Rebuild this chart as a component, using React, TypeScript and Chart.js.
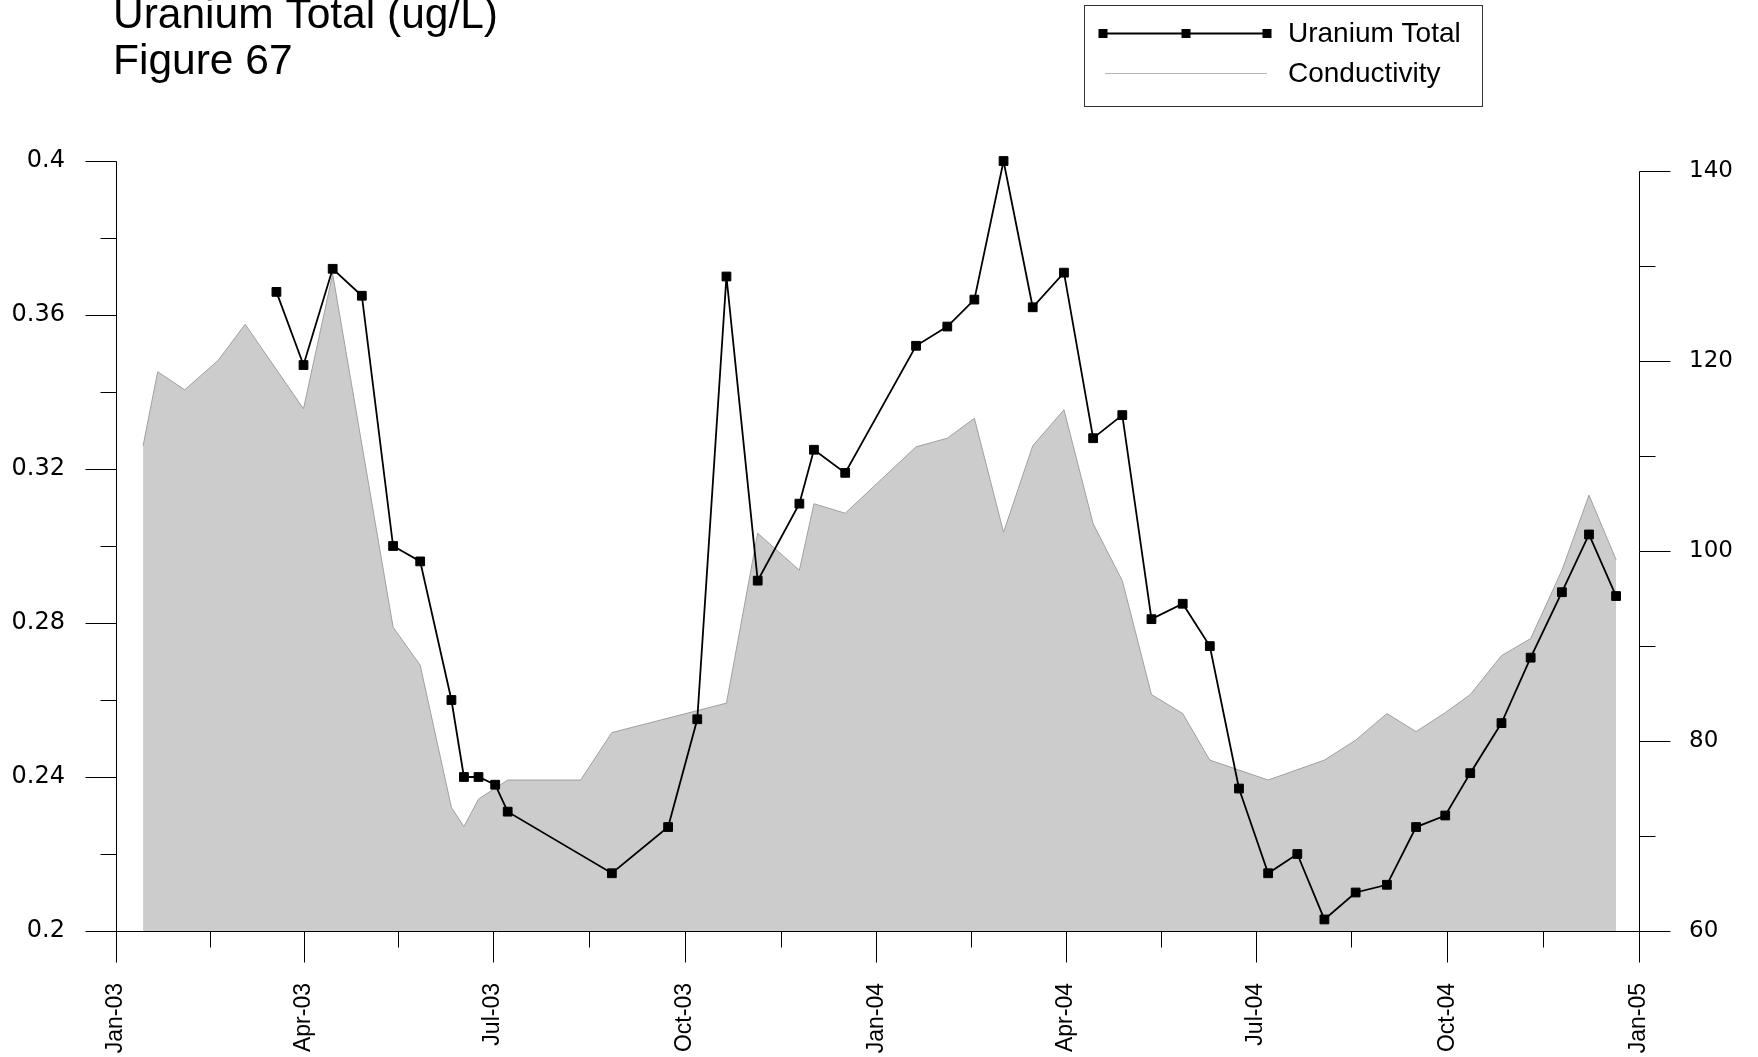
import React, { useEffect, useRef } from "react";
import { Chart, registerables } from "chart.js";

Chart.register(...registerables);

// ---------------- data ----------------
const TITLE_LINES = ["Uranium Total (ug/L)", "Figure 67"];
const URANIUM_LABEL = "Uranium Total";
const CONDUCTIVITY_LABEL = "Conductivity";

const URANIUM_DATES = [
  "2003-03-19", "2003-04-01", "2003-04-15", "2003-04-29", "2003-05-14", "2003-05-27",
  "2003-06-11", "2003-06-17", "2003-06-24", "2003-07-02", "2003-07-08", "2003-08-27",
  "2003-09-23", "2003-10-07", "2003-10-21", "2003-11-05", "2003-11-25", "2003-12-02",
  "2003-12-17", "2004-01-20", "2004-02-04", "2004-02-17", "2004-03-02", "2004-03-16",
  "2004-03-31", "2004-04-14", "2004-04-28", "2004-05-12", "2004-05-27", "2004-06-09",
  "2004-06-23", "2004-07-07", "2004-07-21", "2004-08-03", "2004-08-18", "2004-09-02",
  "2004-09-16", "2004-09-30", "2004-10-12", "2004-10-27", "2004-11-10", "2004-11-25",
  "2004-12-08", "2004-12-21",
];
const URANIUM_VALUES = [
  0.366, 0.347, 0.372, 0.365, 0.300, 0.296,
  0.260, 0.240, 0.240, 0.238, 0.231, 0.215,
  0.227, 0.255, 0.370, 0.291, 0.311, 0.325,
  0.319, 0.352, 0.357, 0.364, 0.400, 0.362,
  0.371, 0.328, 0.334, 0.281, 0.285, 0.274,
  0.237, 0.215, 0.220, 0.203, 0.210, 0.212,
  0.227, 0.230, 0.241, 0.254, 0.271, 0.288,
  0.303, 0.287,
];

const COND_DATES = [
  "2003-01-14", "2003-01-21", "2003-02-03", "2003-02-19", "2003-03-04", "2003-04-01",
  "2003-04-15", "2003-05-14", "2003-05-27", "2003-06-11", "2003-06-17", "2003-06-24",
  "2003-07-08", "2003-08-12", "2003-08-27", "2003-10-21", "2003-11-05", "2003-11-25",
  "2003-12-02", "2003-12-17", "2004-01-20", "2004-02-04", "2004-02-17", "2004-03-02",
  "2004-03-16", "2004-03-31", "2004-04-14", "2004-04-28", "2004-05-12", "2004-05-27",
  "2004-06-09", "2004-07-07", "2004-08-03", "2004-08-18", "2004-09-02", "2004-09-16",
  "2004-09-30", "2004-10-12", "2004-10-27", "2004-11-10", "2004-11-25", "2004-12-08",
  "2004-12-21",
];
const COND_VALUES = [
  111.1, 118.9, 117.0, 120.1, 123.9, 115.0,
  129.2, 92.0, 88.0, 73.0, 71.0, 73.9,
  75.9, 75.9, 80.9, 84.0, 101.9, 98.0,
  105.0, 104.0, 111.0, 111.9, 114.0, 102.0,
  111.1, 114.9, 102.9, 96.9, 84.9, 82.9,
  78.0, 75.9, 78.0, 80.1, 82.9, 81.0,
  83.0, 84.9, 89.0, 90.8, 98.0, 105.9,
  99.1,
];

const X_TICK_DATES = [
  "2003-01-01", "2003-04-01", "2003-07-01", "2003-10-01", "2004-01-01",
  "2004-04-01", "2004-07-01", "2004-10-01", "2005-01-01",
];
const X_TICK_LABELS = [
  "Jan-03", "Apr-03", "Jul-03", "Oct-03", "Jan-04", "Apr-04", "Jul-04", "Oct-04", "Jan-05",
];
const LEFT_TICKS = [0.2, 0.24, 0.28, 0.32, 0.36, 0.4];
const LEFT_MINOR = [0.22, 0.26, 0.3, 0.34, 0.38];
const RIGHT_TICKS = [60, 80, 100, 120, 140];
const RIGHT_MINOR = [70, 90, 110, 130];
const LEFT_RANGE = [0.2, 0.4];
const RIGHT_RANGE = [60, 141.1];

// ---------------- helpers ----------------
const ORIGIN = Date.UTC(2003, 0, 1);
const toDay = (s: string) => {
  const [y, m, d] = s.split("-").map(Number);
  return (Date.UTC(y, m - 1, d) - ORIGIN) / 86400000;
};
const X_TICK_VALUES = X_TICK_DATES.map(toDay);

const ARIAL = "'Liberation Sans', Arial, sans-serif";
const DEJAVU = "'DejaVu Sans', sans-serif";
const MAJOR = 31;
const MINOR = 16;

const decorPlugin = {
  id: "decor",
  afterDraw(chart: any) {
    const ctx: CanvasRenderingContext2D = chart.ctx;
    const area = chart.chartArea;
    const xs = chart.scales.x;
    const yl = chart.scales.yL;
    const yr = chart.scales.yR;
    const L = Math.round(area.left) + 0.5;
    const R = Math.round(area.right) + 0.5;
    const B = Math.round(area.bottom) + 0.5;
    const py = (s: any, v: number) => Math.round(s.getPixelForValue(v)) + 0.5;
    const px = (v: number) => Math.round(xs.getPixelForValue(v)) + 0.5;

    ctx.save();
    ctx.strokeStyle = "#000";
    ctx.lineWidth = 1;
    ctx.beginPath();
    // left axis
    ctx.moveTo(L, py(yl, LEFT_TICKS[LEFT_TICKS.length - 1]));
    ctx.lineTo(L, B);
    LEFT_TICKS.forEach((v) => { const y = py(yl, v); ctx.moveTo(L - MAJOR, y); ctx.lineTo(L, y); });
    LEFT_MINOR.forEach((v) => { const y = py(yl, v); ctx.moveTo(L - MINOR, y); ctx.lineTo(L, y); });
    // right axis
    ctx.moveTo(R, py(yr, RIGHT_TICKS[RIGHT_TICKS.length - 1]));
    ctx.lineTo(R, B);
    RIGHT_TICKS.forEach((v) => { const y = py(yr, v); ctx.moveTo(R, y); ctx.lineTo(R + MAJOR, y); });
    RIGHT_MINOR.forEach((v) => { const y = py(yr, v); ctx.moveTo(R, y); ctx.lineTo(R + MINOR, y); });
    // bottom axis
    ctx.moveTo(L, B);
    ctx.lineTo(R, B);
    X_TICK_VALUES.forEach((v, i) => {
      const x = px(v);
      ctx.moveTo(x, B); ctx.lineTo(x, B + MAJOR);
      if (i < X_TICK_VALUES.length - 1) {
        const xm = px((v + X_TICK_VALUES[i + 1]) / 2);
        ctx.moveTo(xm, B); ctx.lineTo(xm, B + MINOR);
      }
    });
    ctx.stroke();

    // title
    ctx.fillStyle = "#000";
    ctx.font = `42.5px ${ARIAL}`;
    ctx.textAlign = "left";
    ctx.textBaseline = "alphabetic";
    ctx.fillText(TITLE_LINES[0], 113, 28);
    ctx.fillText(TITLE_LINES[1], 113, 74);

    // legend
    ctx.strokeStyle = "#333";
    ctx.lineWidth = 1;
    ctx.strokeRect(1084.5, 5.5, 398, 101);
    const y1 = 33.5;
    const y2 = 73.5;
    ctx.strokeStyle = "#000";
    ctx.lineWidth = 1.8;
    ctx.beginPath();
    ctx.moveTo(1103, y1);
    ctx.lineTo(1267, y1);
    ctx.stroke();
    [1103, 1186, 1267].forEach((cx) => ctx.fillRect(cx - 4.5, y1 - 4.5, 9, 9));
    ctx.strokeStyle = "#b5b5b5";
    ctx.lineWidth = 1;
    ctx.beginPath();
    ctx.moveTo(1105, y2);
    ctx.lineTo(1267, y2);
    ctx.stroke();
    ctx.font = `28px ${ARIAL}`;
    ctx.textBaseline = "middle";
    ctx.fillText(URANIUM_LABEL, 1288, y1 + 1);
    ctx.fillText(CONDUCTIVITY_LABEL, 1288, y2 + 1);
    ctx.restore();
  },
};

export default function App() {
  const ref = useRef<HTMLCanvasElement | null>(null);

  useEffect(() => {
    if (!ref.current) return;
    const chart = new Chart(ref.current, {
      type: "line",
      data: {
        datasets: [
          {
            label: URANIUM_LABEL,
            data: URANIUM_DATES.map((d, i) => ({ x: toDay(d), y: URANIUM_VALUES[i] })),
            yAxisID: "yL",
            borderColor: "#000",
            backgroundColor: "#000",
            borderWidth: 1.8,
            pointStyle: "rect",
            pointRadius: 6.2,
            pointBorderWidth: 1,
            pointBackgroundColor: "#000",
            pointBorderColor: "#000",
            tension: 0,
            fill: false,
            clip: false,
            order: 0,
          } as any,
          {
            label: CONDUCTIVITY_LABEL,
            data: COND_DATES.map((d, i) => ({ x: toDay(d), y: COND_VALUES[i] })),
            yAxisID: "yR",
            borderColor: "#a0a0a0",
            backgroundColor: "#cccccc",
            borderWidth: 1,
            pointRadius: 0,
            tension: 0,
            fill: "start",
            order: 1,
          } as any,
        ],
      },
      options: {
        responsive: false,
        animation: false,
        devicePixelRatio: 1,
        layout: { padding: { top: 161, left: 0, right: 0, bottom: 0 } },
        plugins: {
          legend: { display: false },
          title: { display: false },
          tooltip: { enabled: false },
        },
        scales: {
          x: {
            type: "linear",
            min: X_TICK_VALUES[0],
            max: X_TICK_VALUES[X_TICK_VALUES.length - 1],
            grid: { display: false, drawTicks: false },
            border: { display: false },
            afterBuildTicks: (s: any) => {
              s.ticks = X_TICK_VALUES.map((v) => ({ value: v }));
            },
            afterFit: (s: any) => {
              s.height = 126;
            },
            ticks: {
              autoSkip: false,
              minRotation: 90,
              maxRotation: 90,
              padding: 52,
              color: "#000",
              font: { family: ARIAL, size: 23 },
              callback: (_v: any, i: number) => X_TICK_LABELS[i],
            },
          },
          yL: {
            type: "linear",
            position: "left",
            min: LEFT_RANGE[0],
            max: LEFT_RANGE[1],
            grid: { display: false, drawTicks: false },
            border: { display: false },
            afterBuildTicks: (s: any) => {
              s.ticks = LEFT_TICKS.map((v) => ({ value: v }));
            },
            afterFit: (s: any) => {
              s.width = 116;
            },
            ticks: {
              padding: 51,
              color: "#000",
              font: { family: DEJAVU, size: 24 },
              callback: (v: any) => String(v),
            },
          },
          yR: {
            type: "linear",
            position: "right",
            min: RIGHT_RANGE[0],
            max: RIGHT_RANGE[1],
            grid: { display: false, drawTicks: false },
            border: { display: false },
            afterBuildTicks: (s: any) => {
              s.ticks = RIGHT_TICKS.map((v) => ({ value: v }));
            },
            afterFit: (s: any) => {
              s.width = 119;
            },
            ticks: {
              padding: 50,
              color: "#000",
              font: { family: DEJAVU, size: 23 },
              callback: (v: any) => String(v),
            },
          },
        },
      } as any,
      plugins: [decorPlugin],
    });
    return () => chart.destroy();
  }, []);

  return (
    <div
      style={{
        position: "absolute",
        left: 0,
        top: 0,
        width: 1758,
        height: 1057,
        background: "#fff",
      }}
    >
      <canvas ref={ref} width={1758} height={1057} style={{ display: "block" }} />
    </div>
  );
}
